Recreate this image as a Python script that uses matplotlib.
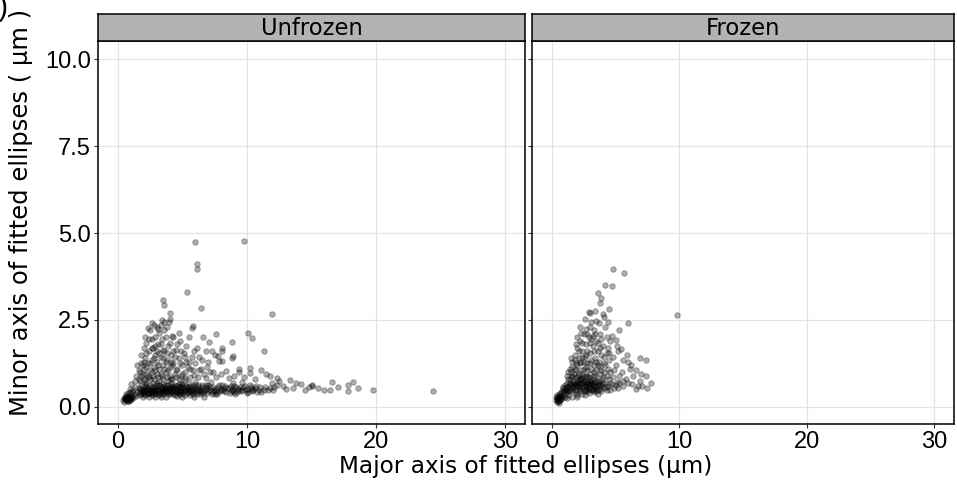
import matplotlib
matplotlib.use('Agg')
import matplotlib.pyplot as plt
import numpy as np

# facet names and tick labels
panels = ['Unfrozen', 'Frozen']
x_ticks = [0, 10, 20, 30]
y_ticks = [0.0, 2.5, 5.0, 7.5, 10.0]
y_ticklabels = ['0.0', '2.5', '5.0', '7.5', '10.0']

# (major, minor) axis of fitted ellipses, um
unfrozen_blob = [(0.4, 0.2), (0.5, 0.15), (0.5, 0.25), (0.6, 0.2), (0.6, 0.3), (0.7, 0.18), (0.7, 0.26),
                 (0.8, 0.22), (0.8, 0.32), (0.9, 0.2), (0.9, 0.28), (1.0, 0.24), (1.0, 0.34), (1.1, 0.3),
                 (0.6, 0.36), (0.75, 0.4), (1.2, 0.26), (0.55, 0.22), (0.85, 0.16), (0.65, 0.24),
                 (0.95, 0.42), (1.3, 0.36), (1.1, 0.44), (1.4, 0.32), (1.2, 0.5), (1.5, 0.42), (0.9, 0.52),
                 (1.3, 0.58), (1.0, 0.66), (1.6, 0.55), (0.6, 0.25), (0.7, 0.22), (0.8, 0.28), (0.9, 0.24),
                 (0.65, 0.32), (0.75, 0.18), (1.0, 0.28), (0.55, 0.27)]
unfrozen_band = [(1.6, 0.35), (1.7, 0.45), (1.8, 0.38), (1.9, 0.5), (2.0, 0.42), (2.0, 0.6), (2.1, 0.34),
                 (2.2, 0.48), (2.3, 0.55), (2.4, 0.4), (2.5, 0.62), (1.8, 0.62), (2.2, 0.7), (2.4, 0.3),
                 (1.9, 0.3), (2.6, 0.45), (2.7, 0.36), (2.8, 0.52), (2.9, 0.6), (3.0, 0.4), (3.0, 0.7),
                 (3.1, 0.5), (3.2, 0.33), (3.3, 0.58), (3.4, 0.44), (3.5, 0.65), (2.7, 0.68), (3.2, 0.75),
                 (2.9, 0.28), (3.4, 0.52), (3.6, 0.4), (3.7, 0.55), (3.8, 0.48), (3.9, 0.62), (4.0, 0.36),
                 (4.0, 0.52), (4.1, 0.7), (4.2, 0.44), (4.3, 0.58), (4.4, 0.34), (4.5, 0.5), (3.7, 0.3),
                 (4.2, 0.8), (3.9, 0.75), (4.4, 0.64), (4.6, 0.42), (4.7, 0.56), (4.8, 0.38), (4.9, 0.5),
                 (5.0, 0.62), (5.1, 0.45), (5.2, 0.35), (5.3, 0.55), (5.4, 0.48), (5.5, 0.68), (4.8, 0.7),
                 (5.0, 0.3), (5.2, 0.78), (5.6, 0.5), (5.7, 0.4), (5.8, 0.6), (5.9, 0.46), (6.0, 0.55),
                 (6.1, 0.36), (6.2, 0.64), (6.3, 0.5), (6.4, 0.42), (6.5, 0.58), (6.0, 0.72), (5.9, 0.28),
                 (6.6, 0.46), (6.8, 0.56), (6.9, 0.4), (7.0, 0.62), (7.1, 0.5), (7.3, 0.44), (7.4, 0.58),
                 (7.5, 0.36), (7.6, 0.52), (7.8, 0.64), (7.9, 0.46), (7.2, 0.72), (6.7, 0.3), (8.1, 0.5),
                 (8.3, 0.6), (8.4, 0.42), (8.6, 0.55), (8.8, 0.46), (9.0, 0.6), (9.1, 0.38), (9.3, 0.52),
                 (9.5, 0.45), (9.7, 0.58), (9.9, 0.5), (10.1, 0.42), (10.3, 0.56), (10.5, 0.48), (10.7, 0.6),
                 (10.9, 0.5), (11.1, 0.44), (11.4, 0.56), (11.6, 0.48), (8.9, 0.7), (9.6, 0.72),
                 (1.9, 0.44), (2.1, 0.52), (2.3, 0.4), (2.5, 0.5), (2.6, 0.58), (2.8, 0.42), (3.0, 0.55),
                 (3.1, 0.46), (3.3, 0.4), (3.5, 0.53), (3.6, 0.6), (3.8, 0.42), (4.0, 0.58), (4.1, 0.48),
                 (4.3, 0.42), (4.5, 0.6), (4.6, 0.52), (4.9, 0.44), (5.1, 0.56), (5.3, 0.46), (5.6, 0.6),
                 (5.8, 0.5), (2.2, 0.58), (2.7, 0.47), (3.2, 0.62), (3.7, 0.5), (4.2, 0.55), (4.7, 0.47),
                 (5.5, 0.42), (6.1, 0.52)]
unfrozen_band_more = [(1.7, 0.52), (1.85, 0.4), (2.05, 0.47), (2.15, 0.62), (2.35, 0.36), (2.45, 0.5),
                      (2.55, 0.42), (2.65, 0.55), (2.85, 0.38), (2.95, 0.5), (3.05, 0.62), (3.15, 0.38),
                      (3.25, 0.5), (3.45, 0.36), (3.55, 0.45), (3.65, 0.52), (3.75, 0.64), (3.85, 0.36),
                      (3.95, 0.55), (4.05, 0.44), (4.15, 0.6), (4.25, 0.38), (4.35, 0.5), (4.55, 0.44),
                      (4.65, 0.62), (4.75, 0.38), (4.85, 0.56), (4.95, 0.66), (5.05, 0.4), (5.15, 0.5),
                      (5.25, 0.6), (5.35, 0.4), (5.45, 0.56), (5.65, 0.45), (5.75, 0.55), (5.85, 0.38),
                      (5.95, 0.62), (6.05, 0.44), (6.25, 0.56), (6.35, 0.36), (6.45, 0.5), (6.55, 0.64),
                      (6.75, 0.5), (6.85, 0.62), (6.95, 0.46), (7.15, 0.56), (7.25, 0.38), (7.45, 0.5),
                      (7.65, 0.44), (7.75, 0.58), (7.95, 0.52), (8.05, 0.62), (8.25, 0.46), (8.45, 0.54),
                      (8.65, 0.4), (8.75, 0.6), (8.95, 0.52), (9.15, 0.58), (9.25, 0.44), (9.45, 0.56),
                      (9.65, 0.48), (9.85, 0.6), (10.0, 0.52), (10.2, 0.62), (10.4, 0.46), (10.6, 0.54),
                      (10.8, 0.44), (11.0, 0.58), (11.3, 0.5), (11.8, 0.55), (12.1, 0.58), (2.0, 0.38),
                      (2.6, 0.34), (3.3, 0.3), (4.6, 0.32), (5.6, 0.34), (6.6, 0.4), (7.7, 0.38), (9.0, 0.44),
                      (10.0, 0.4), (2.3, 0.5), (2.9, 0.45), (3.4, 0.56), (3.9, 0.46), (4.4, 0.54), (4.9, 0.58),
                      (5.4, 0.52), (6.2, 0.46), (6.9, 0.54), (7.5, 0.46), (8.2, 0.55), (8.8, 0.5), (9.4, 0.5),
                      (10.4, 0.52), (1.8, 0.5), (2.5, 0.4), (3.6, 0.46), (4.8, 0.46)]
unfrozen_fan = [(1.6, 0.8), (1.7, 1.0), (1.8, 0.9), (1.9, 1.2), (2.0, 0.8), (2.0, 1.1), (2.1, 1.4),
                (2.2, 0.95), (2.3, 1.25), (2.4, 0.85), (2.4, 1.6), (2.5, 1.05), (2.6, 1.35), (2.7, 0.9),
                (2.7, 1.7), (2.8, 1.15), (2.9, 1.5), (3.0, 0.95), (3.0, 1.3), (3.1, 1.8), (3.2, 1.1),
                (3.3, 1.45), (3.4, 0.88), (3.4, 1.95), (3.5, 1.2), (3.6, 1.6), (3.7, 1.0), (3.8, 1.35),
                (3.9, 1.75), (4.0, 0.9), (4.0, 1.15), (4.1, 1.5), (4.2, 2.05), (4.3, 1.25), (4.4, 0.95),
                (4.5, 1.65), (4.6, 1.1), (4.7, 1.4), (4.8, 1.9), (4.9, 0.9), (5.0, 1.2), (5.1, 1.55),
                (5.2, 1.0), (5.3, 1.3), (5.5, 2.0), (5.6, 1.1), (5.7, 1.45), (5.9, 0.92), (6.0, 1.25),
                (6.1, 1.7), (6.3, 1.05), (6.5, 1.35), (6.7, 0.95), (6.9, 1.15), (7.1, 1.0), (7.3, 1.6),
                (7.5, 1.48), (7.8, 1.33), (8.1, 1.7), (8.1, 1.62), (8.8, 1.87), (8.9, 1.47), (8.8, 1.4),
                (7.05, 1.87), (7.6, 2.1), (10.1, 2.13), (10.4, 1.98), (11.3, 1.6), (8.4, 1.03), (9.4, 1.09),
                (9.4, 1.0), (10.2, 1.12), (10.2, 0.98), (11.1, 1.06), (11.5, 0.95), (11.8, 0.89),
                (12.3, 0.83), (7.4, 1.0), (7.75, 1.47), (8.1, 1.33), (1.8, 1.5), (2.0, 1.7), (2.2, 1.85),
                (2.3, 2.27), (2.6, 2.41), (3.0, 2.3), (3.1, 2.25), (2.6, 1.95), (2.9, 2.0), (3.2, 2.13),
                (3.6, 2.2), (3.95, 2.44), (4.0, 2.53), (3.8, 2.3), (4.6, 1.8), (4.3, 2.0), (4.7, 2.13),
                (5.7, 2.27), (5.8, 2.33), (5.3, 1.75), (6.6, 2.0), (3.5, 3.07), (3.6, 2.93), (4.0, 2.7),
                (5.35, 3.3), (6.4, 2.84), (6.1, 4.1), (6.1, 3.98), (5.97, 4.75), (9.77, 4.78), (11.9, 2.67),
                (1.5, 1.2), (1.4, 0.9), (1.3, 0.75), (2.1, 2.0), (3.4, 2.5)]
unfrozen_fan_more = [(1.7, 0.75), (1.9, 0.95), (2.1, 0.78), (2.2, 1.15), (2.3, 0.9), (2.5, 0.8), (2.5, 1.25),
                     (2.6, 1.0), (2.8, 0.8), (2.8, 1.4), (2.9, 1.05), (3.1, 0.85), (3.1, 1.2), (3.2, 1.55),
                     (3.3, 0.95), (3.5, 0.8), (3.5, 1.4), (3.6, 1.1), (3.7, 1.3), (3.8, 0.85), (3.9, 1.05),
                     (4.1, 0.8), (4.2, 1.2), (4.3, 1.6), (4.5, 0.85), (4.5, 1.05), (4.7, 0.8), (4.8, 1.25),
                     (5.0, 0.95), (5.2, 0.82), (5.4, 1.15), (5.6, 0.85), (5.8, 1.05), (6.2, 0.85), (6.4, 1.1),
                     (6.8, 0.82), (7.0, 1.3), (7.6, 0.85), (8.0, 0.95), (8.6, 0.82), (9.0, 0.9), (9.8, 0.85),
                     (10.6, 0.8), (2.0, 1.3), (2.2, 1.55), (2.4, 1.95), (2.6, 1.7), (2.9, 1.75), (3.0, 1.6),
                     (3.3, 1.8), (3.5, 1.65), (3.7, 2.0), (3.8, 1.55), (4.0, 1.85), (4.1, 1.3), (4.4, 1.45),
                     (4.9, 1.6), (5.2, 1.45), (5.5, 1.3), (5.9, 1.6), (6.3, 1.45), (6.8, 1.6), (1.8, 1.25),
                     (1.6, 1.05), (2.5, 2.2), (2.8, 2.35), (3.3, 2.35), (3.6, 2.45)]
unfrozen_tail = [(12.5, 0.75), (12.8, 0.6), (13.3, 0.78), (13.6, 0.55), (14.2, 0.66), (14.5, 0.5),
                 (15.0, 0.6), (15.0, 0.63), (15.5, 0.55), (16.0, 0.5), (16.4, 0.49), (16.6, 0.72),
                 (17.05, 0.57), (17.8, 0.63), (17.8, 0.46), (18.2, 0.72), (18.6, 0.55), (19.8, 0.49),
                 (24.4, 0.46), (12.0, 0.5), (12.3, 0.62), (13.0, 0.52), (13.8, 0.68), (14.8, 0.58),
                 (11.9, 0.7)]

frozen_blob = [(0.3, 0.2), (0.4, 0.15), (0.4, 0.25), (0.5, 0.2), (0.5, 0.3), (0.6, 0.18), (0.6, 0.26),
               (0.7, 0.22), (0.7, 0.32), (0.8, 0.25), (0.45, 0.35), (0.55, 0.12), (0.65, 0.4), (0.35, 0.28),
               (0.9, 0.35), (0.8, 0.45), (1.0, 0.3), (1.0, 0.5), (1.1, 0.4), (0.9, 0.58), (0.45, 0.22),
               (0.55, 0.28), (0.65, 0.2), (0.5, 0.18), (0.6, 0.34), (0.75, 0.28)]
frozen_core = [(1.1, 0.55), (1.2, 0.45), (1.2, 0.7), (1.3, 0.6), (1.4, 0.5), (1.4, 0.8), (1.5, 0.65),
               (1.6, 0.45), (1.6, 0.9), (1.7, 0.55), (1.7, 0.75), (1.8, 0.6), (1.9, 0.4), (1.9, 0.85),
               (2.0, 0.5), (2.0, 0.7), (2.1, 0.95), (2.2, 0.6), (2.2, 0.45), (2.3, 0.8), (2.4, 0.55),
               (2.4, 0.68), (2.5, 0.9), (2.6, 0.5), (2.6, 0.75), (2.7, 0.62), (2.8, 0.45), (2.8, 0.85),
               (2.9, 0.7), (3.0, 0.55), (3.0, 0.95), (3.1, 0.65), (3.2, 0.5), (3.2, 0.8), (3.3, 0.6),
               (3.4, 0.72), (3.5, 0.45), (3.5, 0.88), (3.6, 0.6), (3.7, 0.75), (3.8, 0.52), (3.9, 0.66),
               (4.0, 0.85), (4.1, 0.55), (4.2, 0.7), (4.4, 0.6), (4.5, 0.8), (4.7, 0.65), (4.9, 0.55),
               (5.1, 0.72), (1.5, 1.0), (1.8, 1.1), (2.0, 1.2), (2.3, 1.05), (2.7, 1.15), (3.1, 1.1),
               (3.5, 1.05), (1.3, 0.35), (1.6, 0.3), (2.0, 0.35), (2.4, 0.38), (2.9, 0.4), (3.3, 0.42),
               (3.9, 0.45), (4.3, 0.48), (1.8, 0.68), (2.1, 0.58), (2.3, 0.66), (2.5, 0.6), (2.7, 0.52),
               (2.9, 0.6), (3.1, 0.75), (3.3, 0.52), (1.5, 0.55), (2.6, 0.68), (2.2, 0.78), (3.4, 0.6),
               (2.0, 0.62), (2.8, 0.72), (3.6, 0.68), (1.7, 0.65)]
frozen_core_more = [(0.75, 0.4), (0.85, 0.55), (0.95, 0.45), (1.05, 0.62), (1.15, 0.5), (1.25, 0.8),
                    (1.35, 0.45), (1.45, 0.7), (1.55, 0.85), (1.65, 0.6), (1.75, 0.95), (1.85, 0.5),
                    (1.95, 0.75), (2.05, 0.9), (2.15, 0.68), (2.25, 0.52), (2.35, 0.95), (2.45, 0.75),
                    (2.55, 0.45), (2.65, 0.9), (2.75, 0.7), (2.85, 0.55), (2.95, 0.85), (3.05, 0.65),
                    (3.15, 0.48), (3.25, 0.7), (3.35, 0.9), (3.45, 0.55), (3.55, 0.75), (3.65, 0.5),
                    (3.75, 0.95), (3.85, 0.6), (3.95, 0.8), (4.05, 0.7), (4.25, 0.58), (4.35, 0.9),
                    (4.6, 0.7), (4.8, 0.85), (5.0, 0.62), (5.3, 0.7), (5.6, 0.75), (1.3, 1.0), (1.6, 1.15),
                    (1.9, 1.05), (2.2, 1.25), (2.5, 1.1), (2.8, 1.05), (3.0, 1.25), (3.3, 1.0), (3.6, 1.2),
                    (3.9, 1.05), (4.2, 1.2), (4.6, 1.0), (2.0, 0.28), (1.2, 0.25), (2.6, 0.35), (3.6, 0.38),
                    (6.0, 0.7), (6.8, 0.6), (5.2, 0.55), (4.6, 0.5), (1.4, 0.62), (1.9, 0.62), (2.4, 0.82),
                    (2.7, 0.6), (3.0, 0.78), (3.2, 0.62), (3.7, 0.62), (2.1, 0.8), (2.9, 0.5), (1.2, 0.58)]
frozen_fan = [(1.6, 1.3), (1.8, 1.5), (1.9, 1.25), (2.0, 1.7), (2.1, 1.4), (2.2, 1.9), (2.3, 1.3),
              (2.4, 1.6), (2.5, 2.1), (2.6, 1.45), (2.7, 1.8), (2.8, 1.25), (2.9, 2.0), (3.0, 1.55),
              (3.1, 1.35), (3.2, 1.75), (3.3, 2.2), (3.4, 1.4), (3.5, 1.9), (3.6, 1.6), (3.7, 1.3),
              (3.8, 2.1), (3.9, 1.5), (4.0, 1.75), (4.1, 1.25), (4.2, 2.3), (4.3, 1.55), (4.5, 1.35),
              (4.6, 1.9), (4.8, 1.45), (5.0, 1.2), (5.2, 1.6), (5.4, 1.67), (5.0, 1.93), (4.7, 2.04),
              (3.2, 2.04), (2.3, 2.12), (2.6, 2.53), (3.5, 2.47), (3.7, 2.41), (5.3, 2.2), (6.0, 2.41),
              (2.9, 2.73), (3.0, 2.7), (4.0, 2.67), (4.1, 2.6), (4.5, 2.82), (3.8, 2.99), (3.9, 3.13),
              (3.6, 3.27), (4.2, 3.5), (4.7, 3.48), (4.8, 3.96), (5.7, 3.84), (9.8, 2.64), (6.9, 1.41),
              (7.4, 1.35), (7.4, 0.89), (7.8, 0.69), (7.5, 0.55), (6.6, 0.52), (6.4, 0.89), (5.5, 1.0),
              (5.8, 0.8), (6.1, 1.1), (6.3, 0.65), (5.6, 0.6), (6.9, 0.75), (7.1, 0.6), (5.3, 0.9),
              (6.0, 1.3), (5.9, 1.5), (4.9, 1.05), (4.4, 1.1), (4.1, 1.0), (3.8, 1.15), (3.3, 1.2),
              (2.5, 1.3), (1.4, 1.1), (1.2, 0.9), (2.8, 1.6), (3.6, 1.85), (4.4, 1.7), (3.0, 2.3),
              (2.7, 2.25)]
frozen_fan_more = [(1.5, 1.4), (1.8, 1.35), (2.1, 1.6), (2.4, 1.45), (2.7, 1.5), (3.0, 1.85), (3.3, 1.6),
                   (3.5, 1.3), (3.8, 1.7), (4.1, 1.45), (4.5, 1.55), (2.0, 2.0), (2.4, 1.85), (2.8, 2.1),
                   (3.1, 1.95), (3.4, 2.1), (3.9, 1.95), (4.3, 2.0), (1.9, 1.8), (2.2, 2.3), (3.1, 2.45),
                   (3.4, 2.75), (4.4, 2.45), (5.1, 1.75), (5.6, 1.35), (6.2, 1.2), (6.6, 1.05), (7.0, 0.95)]

data = {
    'Unfrozen': np.array(unfrozen_blob + unfrozen_band + unfrozen_band_more
                         + unfrozen_fan + unfrozen_fan_more + unfrozen_tail),
    'Frozen': np.array(frozen_blob + frozen_core + frozen_core_more + frozen_fan + frozen_fan_more),
}

W, H = 957, 493
fig = plt.figure(figsize=(W / 100, H / 100), dpi=100)

tick_font = 'Liberation Sans'
title_font = 'DejaVu Sans'
panel_px = [(98, 525), (532, 954)]
top, bottom, strip_top = 41, 424, 14

for i, (name, (x0, x1)) in enumerate(zip(panels, panel_px)):
    ax = fig.add_axes([x0 / W, 1 - bottom / H, (x1 - x0) / W, (bottom - top) / H])
    pts = data[name]
    ax.scatter(pts[:, 0], pts[:, 1], s=16, c='black', alpha=0.32, linewidths=0.6, zorder=3)
    ax.set_xlim(-1.55, 31.55)
    ax.set_ylim(-0.49, 10.52)
    ax.set_xticks(x_ticks)
    ax.set_yticks(y_ticks)
    ax.grid(True, color='#e3e3e3', linewidth=0.9, zorder=0)
    ax.set_axisbelow(True)
    for sp in ax.spines.values():
        sp.set_color('black')
        sp.set_linewidth(1.1)
    ax.tick_params(length=3, width=0.8, color='#333333', labelsize=17, pad=2)
    for lab in ax.get_xticklabels():
        lab.set_fontfamily(tick_font)
    if i == 0:
        ax.set_yticklabels(y_ticklabels, fontfamily=tick_font)
    else:
        ax.set_yticklabels([])

    # facet strip
    sax = fig.add_axes([x0 / W, 1 - top / H, (x1 - x0) / W, (top - strip_top) / H])
    sax.set_facecolor('#b3b3b3')
    sax.set_xticks([])
    sax.set_yticks([])
    for sp in sax.spines.values():
        sp.set_color('black')
        sp.set_linewidth(1.1)
    sax.text(0.5, 0.45, name, ha='center', va='center', fontsize=16.3,
             fontfamily=title_font, transform=sax.transAxes)

fig.text((98 + 954) / 2 / W, 1 - 467 / H, 'Major axis of fitted ellipses (\u00b5m)',
         ha='center', va='center', fontsize=16.7, fontfamily=title_font)
fig.text(21 / W, 1 - 212 / H, 'Minor axis of fitted ellipses ( \u00b5m )',
         ha='center', va='center', rotation=90, fontsize=17.5, fontfamily=title_font)
# panel tag, mostly cut off at the left edge as in the original
fig.text(8 / W, 1.012, 'b)', ha='right', va='top', fontsize=21, fontfamily=tick_font)

fig.savefig('out.png', dpi=100)
